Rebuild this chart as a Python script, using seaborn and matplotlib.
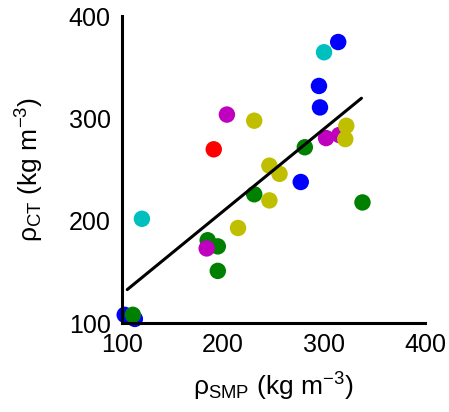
import numpy as np
import pandas as pd
import matplotlib
matplotlib.use("Agg")
import matplotlib.pyplot as plt
import seaborn as sns

# values (kg m-3)
blue_smp = [314, 295, 296, 277, 103, 113]
blue_ct = [375, 332, 311, 238, 108, 104]
cyan_smp = [300, 120]
cyan_ct = [365, 202]
red_smp = [191]
red_ct = [270]
green_smp = [281, 231, 338, 185, 195, 195, 111]
green_ct = [272, 226, 218, 181, 175, 151, 108]
magenta_smp = [204, 302, 315, 184]
magenta_ct = [304, 281, 284, 173]
yellow_smp = [231, 322, 321, 246, 256, 246, 215]
yellow_ct = [298, 293, 280, 254, 246, 220, 193]

# regression line end points
fit_smp = [105.5, 337]
fit_ct = [132.7, 320]

groups = ["blue", "cyan", "red", "green", "magenta", "yellow"]
colors = {"blue": "#0000FF", "cyan": "#00BFBF", "red": "#FF0000",
          "green": "#008000", "magenta": "#BF00BF", "yellow": "#BFBF00"}
xs = [blue_smp, cyan_smp, red_smp, green_smp, magenta_smp, yellow_smp]
ys = [blue_ct, cyan_ct, red_ct, green_ct, magenta_ct, yellow_ct]

rows = []
for g, x, y in zip(groups, xs, ys):
    for a, b in zip(x, y):
        rows.append((g, a, b))
df = pd.DataFrame(rows, columns=["grp", "smp", "ct"])

sns.set_style("white")
plt.rcParams["font.family"] = ["Liberation Sans", "DejaVu Sans"]
plt.rcParams["mathtext.fontset"] = "custom"
plt.rcParams["mathtext.rm"] = "Liberation Sans"
plt.rcParams["mathtext.it"] = "Liberation Sans:italic"
plt.rcParams["text.color"] = "black"
plt.rcParams["axes.labelcolor"] = "black"

fig = plt.figure(figsize=(4.49, 4.12), dpi=100)
ax = fig.add_axes([0.271, 0.216, 0.676, 0.744])

sns.scatterplot(data=df, x="smp", y="ct", hue="grp", palette=colors,
                s=140, linewidth=0, legend=False, ax=ax, zorder=2)
for c in ax.collections:
    c.set_clip_on(False)
sns.lineplot(x=fit_smp, y=fit_ct, color="black", linewidth=2.2, ax=ax, zorder=3)

ax.set_xlim(100, 400)
ax.set_ylim(100, 400)
ax.set_xticks([100, 200, 300, 400])
ax.set_yticks([100, 200, 300, 400])
for s in ["top", "right"]:
    ax.spines[s].set_visible(False)
for s in ["left", "bottom"]:
    ax.spines[s].set_linewidth(2.2)
    ax.spines[s].set_color("black")
ax.tick_params(direction="in", length=3, width=1.5, labelsize=18, colors="black")
ax.tick_params(axis="x", pad=7)
ax.tick_params(axis="y", pad=8)

ax.set_xlabel(r"ρ$_{\mathrm{SMP}}$ (kg m$^{-3}$)", fontsize=19, labelpad=10)
ax.set_ylabel(r"ρ$_{\mathrm{CT}}$ (kg m$^{-3}$)", fontsize=19, labelpad=16)

fig.savefig("out.png", dpi=100)
